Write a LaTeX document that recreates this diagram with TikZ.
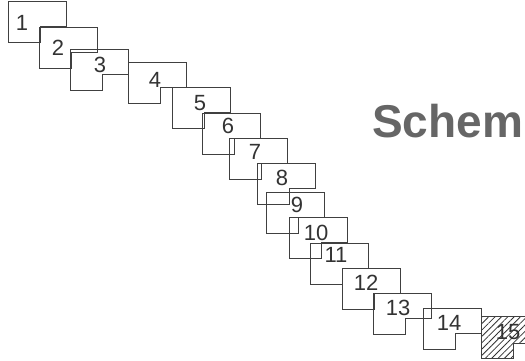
\documentclass[tikz,border=0pt]{standalone}
\usepackage{fontspec}
\setmainfont{Liberation Sans}
\usetikzlibrary{patterns.meta}
\begin{document}
\begin{tikzpicture}[x=1pt, y=-1pt,
  sheet/.style={draw=black!75, line width=0.7pt, line join=miter},
  numlabel/.style={font=\fontsize{22}{22}\selectfont, text=black!80, inner sep=0pt},
  heading/.style={font=\bfseries\fontsize{46}{46}\selectfont, text=black!60,
                  inner sep=0pt, anchor=base west}
]
  \useasboundingbox (0,0) rectangle (525,360);
  \clip (0,0) rectangle (525,360);

  % notched sheets, each one laid over the previous
  \foreach \x/\y/\lx/\ly/\n in {8/1/22/23/1, 39/27/58/48/2, 70/49/100/65/3,
      128/62/155/80/4, 172/87/200/103/5, 202/113/228/126/6, 229/138/255/152/7,
      257/163/282/178/8, 266/192/297/205/9, 289/217/316/233/10,
      310/243/336/255/11, 342/268/366/283/12, 373/293/398/308/13,
      423/308/449/323/14}
  {
    \draw[sheet] (\x,\y) -- ++(58,0) -- ++(0,25) -- ++(-26,0) -- ++(0,16)
      -- ++(-32,0) -- cycle;
    \node[numlabel] (n\n) at (\lx,\ly) {\n};
  }

  % last sheet, hatched
  \draw[sheet, pattern={Lines[angle=45, distance=4.5pt, line width=0.8pt]},
        pattern color=black!80]
    (481,316) -- ++(58,0) -- ++(0,27) -- ++(-26,0) -- ++(0,15) -- ++(-32,0) -- cycle;
  \node[numlabel] (n15) at (508,332) {15};

  \node[heading] (title) at (372,137) {Schem};
\end{tikzpicture}
\end{document}
